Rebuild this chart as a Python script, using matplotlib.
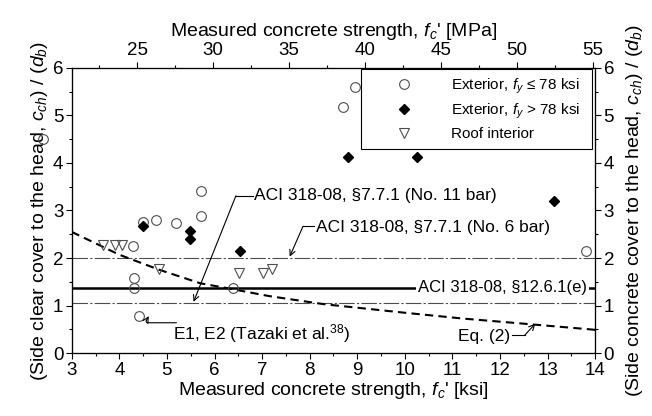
import numpy as np
import matplotlib
matplotlib.use("Agg")
import matplotlib.pyplot as plt
from matplotlib.ticker import MultipleLocator

plt.rcParams['font.family'] = ['Liberation Sans', 'DejaVu Sans']
plt.rcParams['mathtext.fontset'] = 'custom'
plt.rcParams['mathtext.rm'] = 'Liberation Sans'
plt.rcParams['mathtext.it'] = 'Liberation Sans:italic'

# Exterior, fy <= 78 ksi (open circles)
ext_low_fc = [2.4, 4.28, 4.30, 4.30, 4.41, 4.49, 4.77, 5.19, 5.71, 5.71, 6.39, 8.70, 8.95, 13.81]
ext_low_r = [4.50, 2.25, 1.58, 1.37, 0.78, 2.75, 2.80, 2.74, 2.88, 3.41, 1.37, 5.18, 5.60, 2.15]

# Exterior, fy > 78 ksi (filled diamonds)
ext_high_fc = [4.49, 5.48, 5.48, 6.53, 8.80, 10.26, 13.14]
ext_high_r = [2.68, 2.57, 2.40, 2.15, 4.13, 4.13, 3.20]

# Roof interior (open down triangles)
roof_fc = [3.65, 3.90, 4.05, 4.83, 6.51, 7.02, 7.21]
roof_r = [2.27, 2.27, 2.27, 1.77, 1.68, 1.68, 1.76]

# Eq. (2) curve
eq2_fc = [3.0, 4.0, 4.85, 5.7, 6.25, 7.15, 8.3, 10.0, 11.2, 12.5, 13.9, 14.0]
eq2_r = [2.55, 2.07, 1.75, 1.47, 1.37, 1.20, 1.03, 0.85, 0.73, 0.62, 0.50, 0.49]

# ACI limits
aci_no6 = 2.0
aci_no11 = 1.06
aci_1261e = 1.38

fig = plt.figure(figsize=(6.52, 4.16), dpi=100)
ax = fig.add_axes([0.110, 0.151, 0.803, 0.686])

ax.axhline(aci_no6, color='0.3', lw=0.8, ls=(0, (14, 2, 2, 2)))
ax.axhline(aci_no11, color='0.3', lw=0.8, ls=(0, (14, 2, 2, 2)))
ax.axhline(aci_1261e, color='black', lw=1.8)
ax.plot(eq2_fc, eq2_r, color='black', lw=1.5, ls=(0, (4, 2.5)))

ax.plot(ext_low_fc, ext_low_r, ls='none', marker='o', ms=7, mfc='none', mec='0.3', mew=0.8,
        clip_on=False, label=u'Exterior, $f_y$ \u2264 78 ksi')
ax.plot(ext_high_fc, ext_high_r, ls='none', marker='D', ms=4.8, mfc='black', mec='black',
        label=r'Exterior, $f_y$ > 78 ksi')
ax.plot(roof_fc, roof_r, ls='none', marker='v', ms=7, mfc='none', mec='0.3', mew=0.8,
        label='Roof interior')

tick_fs = 13.5
lab_fs = 14
ax.set_xlim(3, 14)
ax.set_ylim(0, 6)
ax.xaxis.set_major_locator(MultipleLocator(1))
ax.xaxis.set_minor_locator(MultipleLocator(0.5))
ax.yaxis.set_major_locator(MultipleLocator(1))
ax.yaxis.set_minor_locator(MultipleLocator(0.5))
ax.tick_params(which='major', length=4, width=0.8, labelsize=tick_fs, direction='out', pad=2)
ax.tick_params(which='minor', length=2.5, width=0.8, direction='out')
ax.set_xlabel(r"Measured concrete strength, $f_c$' [ksi]", fontsize=lab_fs, labelpad=1)
ax.set_ylabel(r"(Side clear cover to the head, $c_{ch}$) / ($d_b$)", fontsize=lab_fs, labelpad=2)

# annotations
fs = 12.5
ax.text(6.83, 3.31, u"ACI 318-08, \u00a77.7.1 (No. 11 bar)", fontsize=fs, va='center', ha='left')
ax.plot([6.45, 6.80], [3.31, 3.31], color='black', lw=0.8)
ax.annotate('', xy=(5.56, 1.08), xytext=(6.45, 3.31),
            arrowprops=dict(arrowstyle='->', color='black', lw=0.8, shrinkA=0, shrinkB=0))

ax.text(8.13, 2.65, u"ACI 318-08, \u00a77.7.1 (No. 6 bar)", fontsize=fs, va='center', ha='left')
ax.plot([7.86, 8.10], [2.67, 2.67], color='black', lw=0.8)
ax.annotate('', xy=(7.58, 2.03), xytext=(7.86, 2.67),
            arrowprops=dict(arrowstyle='->', color='black', lw=0.8, shrinkA=0, shrinkB=0))

ax.text(12.05, aci_1261e, u"ACI 318-08, \u00a712.6.1(e)", fontsize=12, va='center', ha='center',
        bbox=dict(facecolor='white', edgecolor='none', pad=1.5))

ax.text(5.12, 0.42, r"E1, E2 (Tazaki et al.$^{38}$)", fontsize=fs, va='center', ha='left')
ax.annotate('', xy=(4.62, 0.78), xytext=(5.20, 0.64),
            arrowprops=dict(arrowstyle='->', color='black', lw=0.8, shrinkA=0, shrinkB=0,
                            connectionstyle='angle,angleA=0,angleB=60,rad=3'))

ax.text(12.21, 0.36, "Eq. (2)", fontsize=fs, va='center', ha='right')
ax.plot([12.25, 12.52], [0.38, 0.38], color='black', lw=0.8)
ax.annotate('', xy=(12.74, 0.62), xytext=(12.52, 0.38),
            arrowprops=dict(arrowstyle='->', color='black', lw=0.8, shrinkA=0, shrinkB=0))

leg = ax.legend(loc='upper left', bbox_to_anchor=(0.553, 0.72, 0.441, 0.277), mode='expand',
                fontsize=11, frameon=True, fancybox=False, borderaxespad=0, handlelength=4.6,
                handletextpad=0.8, labelspacing=0.4, borderpad=0.5, framealpha=1)
leg.get_frame().set_edgecolor('black')
leg.get_frame().set_linewidth(0.8)

# top axis in MPa
axt = ax.twiny()
axt.set_xlim(20.68, 55.15)
axt.xaxis.set_major_locator(MultipleLocator(5))
axt.xaxis.set_minor_locator(MultipleLocator(2.5))
axt.tick_params(which='major', length=4, width=0.8, labelsize=tick_fs, direction='out', pad=2)
axt.tick_params(which='minor', length=2.5, width=0.8, direction='out')
axt.set_xlabel(r"Measured concrete strength, $f_c$' [MPa]", fontsize=lab_fs, labelpad=5)

# right axis
axr = ax.twinx()
axr.set_ylim(0, 6)
axr.yaxis.set_major_locator(MultipleLocator(1))
axr.yaxis.set_minor_locator(MultipleLocator(0.5))
axr.tick_params(which='major', length=4, width=0.8, labelsize=tick_fs, direction='out', pad=2)
axr.tick_params(which='minor', length=2.5, width=0.8, direction='out')
axr.set_ylabel(r"(Side concrete cover to the head, $c_{ch}$) / ($d_b$)", fontsize=lab_fs,
               rotation=90, labelpad=7)

for a in (ax, axt, axr):
    for s in a.spines.values():
        s.set_linewidth(0.8)

fig.savefig('out.png', dpi=100)
